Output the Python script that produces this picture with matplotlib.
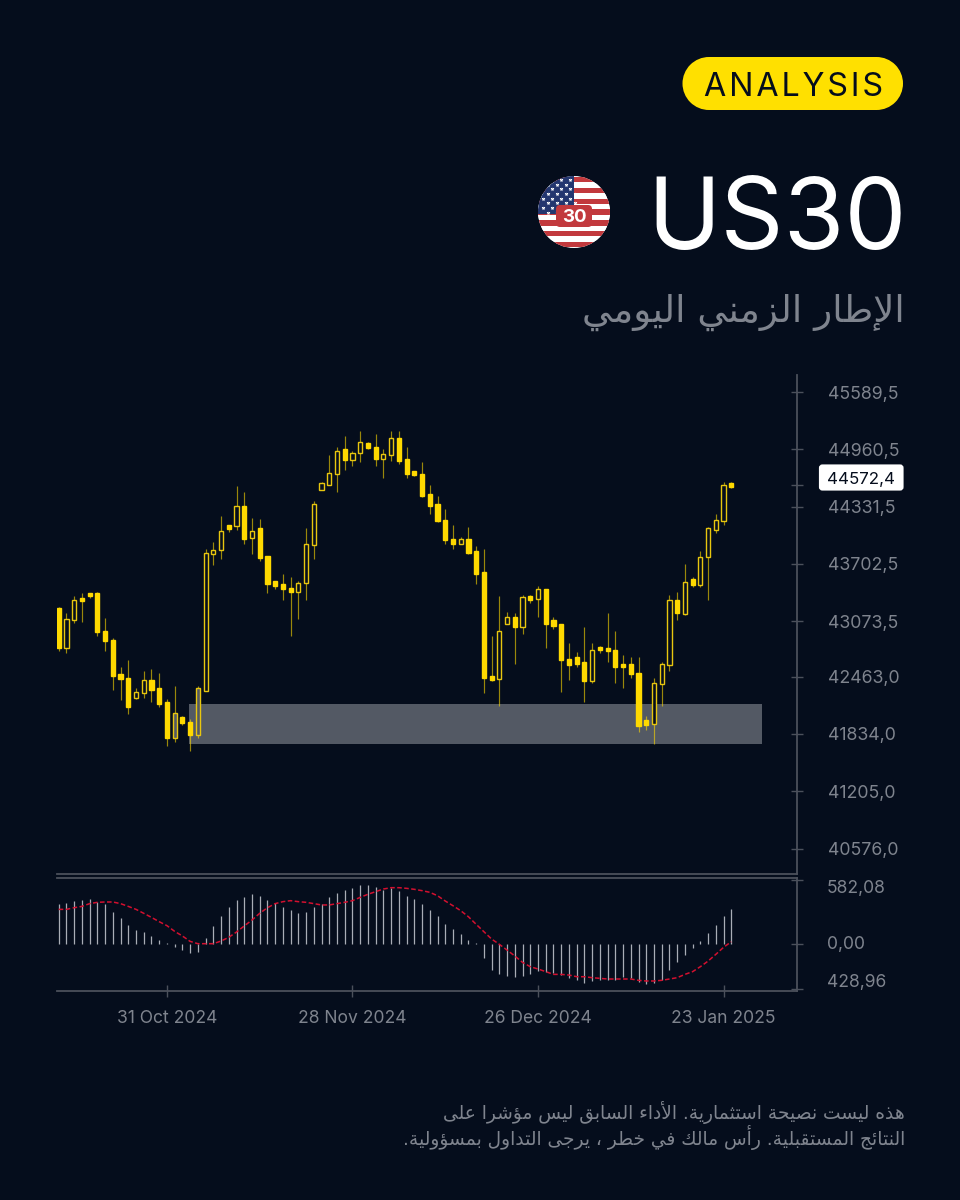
import matplotlib
matplotlib.use("Agg")
import matplotlib.pyplot as plt
import numpy as np
from matplotlib.patches import Circle, FancyBboxPatch, Rectangle

# ---- data ----
opens = [43215, 42778, 43086, 43325, 43387, 43387, 42965, 42870, 42488, 42451,
         42228, 42283, 42429, 42338, 42183, 41787, 42015, 41971, 41824, 42305,
         43809, 43850, 44129, 44118, 44338, 43982, 44092, 43787, 43519, 43479,
         43442, 43391, 43490, 43905, 44514, 44573, 44690, 44969, 44841, 44918,
         45031, 44991, 44859, 44899, 45083, 44855, 44723, 44686, 44474, 44360,
         44187, 43978, 43923, 43978, 43846, 43611, 42470, 42437, 43046, 43116,
         43009, 43351, 43314, 43424, 43083, 43043, 42661, 42679, 42624, 42415,
         42790, 42775, 42757, 42602, 42602, 42507, 41993, 41942, 42382, 42588,
         43311, 43153, 43538, 43468, 43773, 44078, 44173, 44588]
highs = [43233, 43160, 43347, 43384, 43387, 43392, 43105, 42888, 42565, 42646,
         42338, 42529, 42547, 42507, 42220, 42360, 42029, 41996, 42356, 43861,
         43941, 44224, 44129, 44554, 44496, 44209, 44191, 43787, 43519, 43593,
         43556, 43519, 44092, 44397, 44602, 44896, 44987, 45109, 44943, 45167,
         45042, 45127, 44969, 45167, 45164, 44991, 44723, 44819, 44569, 44452,
         44305, 44129, 43993, 44110, 43901, 43861, 42910, 43347, 43178, 43160,
         43362, 43366, 43461, 43428, 43124, 43043, 42837, 42738, 43006, 42834,
         42797, 43160, 42969, 42701, 42683, 42683, 42030, 42452, 42624, 43366,
         43388, 43696, 43553, 43847, 44111, 44247, 44606, 44599]
lows = [42741, 42723, 43050, 43061, 43332, 42910, 42741, 42319, 42206, 42051,
        42220, 42224, 42187, 42125, 41706, 41747, 41938, 41651, 41787, 42301,
        43692, 43751, 44055, 44074, 43919, 43806, 43732, 43387, 43428, 43310,
        42907, 43097, 43310, 43751, 44510, 44569, 44492, 44738, 44778, 44819,
        44969, 44778, 44646, 44833, 44800, 44646, 44664, 44433, 44246, 44165,
        43919, 43864, 43919, 43806, 43483, 42279, 42418, 42143, 43042, 42606,
        42929, 43274, 43116, 42775, 42988, 42298, 42430, 42566, 42184, 42393,
        42720, 42621, 42393, 42334, 42452, 41861, 41876, 41722, 42144, 42529,
        43083, 43142, 43447, 43447, 43307, 44037, 44133, 44536]
closes = [42778, 43097, 43307, 43296, 43347, 42951, 42855, 42473, 42433, 42128,
          42294, 42429, 42319, 42165, 41787, 42062, 41952, 41824, 42338, 43824,
          43857, 44066, 44088, 44338, 43978, 44066, 43769, 43486, 43464, 43428,
          43391, 43497, 43916, 44356, 44587, 44701, 44947, 44841, 44925, 45042,
          44973, 44859, 44910, 45083, 44837, 44686, 44683, 44452, 44341, 44169,
          43960, 43919, 43975, 43824, 43596, 42451, 42426, 42962, 43116, 43006,
          43340, 43311, 43424, 43046, 43024, 42646, 42588, 42606, 42415, 42753,
          42757, 42742, 42569, 42569, 42489, 41920, 41938, 42393, 42602, 43307,
          43160, 43498, 43465, 43780, 44092, 44184, 44570, 44551]

macd_hist = [364, 376, 391, 403, 415, 385, 364, 297, 242, 173,
             133, 109, 79, 42, 12, -27, -55, -79, -67, 55,
             164, 258, 336, 403, 427, 455, 442, 403, 373, 336,
             309, 282, 297, 336, 364, 427, 470, 497, 509, 536,
             536, 524, 497, 509, 485, 442, 415, 364, 309, 255,
             188, 136, 94, 39, 15, -121, -230, -270, -285, -294,
             -285, -273, -242, -248, -264, -279, -303, -324, -351, -333,
             -321, -321, -321, -300, -303, -339, -361, -351, -324, -230,
             -164, -97, -30, 30, 106, 176, 255, 324]
macd_signal = [318, 318, 333, 345, 370, 382, 385, 385, 370, 345,
               318, 282, 245, 206, 170, 118, 76, 27, 6, 6,
               6, 30, 64, 112, 167, 221, 282, 333, 370, 388,
               397, 388, 382, 370, 358, 358, 370, 382, 397, 427,
               455, 479, 503, 515, 515, 509, 500, 488, 473, 442,
               394, 351, 306, 251, 182, 115, 48, 0, -52, -106,
               -164, -203, -224, -248, -273, -273, -279, -294, -294, -303,
               -309, -315, -315, -315, -315, -327, -333, -333, -327, -315,
               -303, -273, -248, -203, -152, -91, -27, 24]

price_ticks = [45589.5, 44960.5, 44331.5, 43702.5, 43073.5, 42463.0, 41834.0, 41205.0, 40576.0]
macd_ticks = [582.08, 0.0, -428.96]
macd_tick_labels = ["582,08", "0,00", "428,96"]
date_pos = [14, 38, 62, 86]
date_labels = ["31 Oct 2024", "28 Nov 2024", "26 Dec 2024", "23 Jan 2025"]
last_price = 44572.4
zone_start, zone_end = 16.86, 91.0
zone_low, zone_high = 41725, 42165

BG = "#050d1c"
YELLOW = "#ffd900"
ZONE = "#535964"
AXIS = "#4b505b"
LABEL = "#7f848e"
W, H = 960, 1200
FONT = ["Inter", "DejaVu Sans"]


# matplotlib does no Arabic shaping, so map letters to presentation forms by hand
DUAL = {"ئ": 0xFE89, "ب": 0xFE8F, "ت": 0xFE95, "ث": 0xFE99, "ج": 0xFE9D, "ح": 0xFEA1,
        "خ": 0xFEA5, "س": 0xFEB1, "ش": 0xFEB5, "ص": 0xFEB9, "ط": 0xFEC1, "ع": 0xFEC9,
        "ف": 0xFED1, "ق": 0xFED5, "ك": 0xFED9, "ل": 0xFEDD, "م": 0xFEE1, "ن": 0xFEE5,
        "ه": 0xFEE9, "ي": 0xFEF1}
RIGHT = {"أ": 0xFE83, "ؤ": 0xFE85, "إ": 0xFE87, "ا": 0xFE8D, "ة": 0xFE93, "د": 0xFEA9,
         "ذ": 0xFEAB, "ر": 0xFEAD, "ز": 0xFEAF, "و": 0xFEED, "ى": 0xFEEF}
LAM_ALEF = {"ا": 0xFEFB, "أ": 0xFEF7, "إ": 0xFEF9}


def shape(text):
    out = []
    i = 0
    prev_joins = False
    while i < len(text):
        ch = text[i]
        nxt = text[i + 1] if i + 1 < len(text) else ""
        if ch == "ل" and nxt in LAM_ALEF:
            out.append(chr(LAM_ALEF[nxt] + (1 if prev_joins else 0)))
            prev_joins = False
            i += 2
            continue
        if ch in DUAL:
            next_letter = nxt in DUAL or nxt in RIGHT
            form = {(False, False): 0, (True, False): 1,
                    (False, True): 2, (True, True): 3}[(prev_joins, next_letter)]
            out.append(chr(DUAL[ch] + form))
            prev_joins = next_letter
        elif ch in RIGHT:
            out.append(chr(RIGHT[ch] + (1 if prev_joins else 0)))
            prev_joins = False
        else:
            out.append(ch)
            prev_joins = False
        i += 1
    return "".join(reversed(out))


def px_axes(left, top, right, bottom):
    return fig.add_axes([left / W, 1 - bottom / H, (right - left) / W, (bottom - top) / H])


fig = plt.figure(figsize=(W / 100, H / 100), dpi=100, facecolor=BG)

# overlay in pixel coordinates for the header, footer and tag
over = fig.add_axes([0, 0, 1, 1], zorder=5)
over.set_xlim(0, W)
over.set_ylim(H, 0)
over.axis("off")

# price panel
ax = px_axes(57, 375, 797, 873.5)
ax.set_facecolor("none")
x = np.arange(len(opens))
xlim = (-0.22, 95.5)
ax.add_patch(Rectangle((zone_start, zone_low), zone_end - zone_start, zone_high - zone_low,
                       facecolor=ZONE, edgecolor="none", zorder=1))
ax.vlines(x, lows, highs, color=YELLOW, alpha=0.6, lw=0.85, zorder=2)
for i in x:
    top, bot = max(opens[i], closes[i]), min(opens[i], closes[i])
    filled = closes[i] < opens[i]
    in_zone = zone_low < (top + bot) / 2 < zone_high
    face = YELLOW if filled else (ZONE if in_zone else BG)
    ax.add_patch(Rectangle((i - 0.27, bot), 0.54, top - bot, lw=1.0,
                           edgecolor=YELLOW if filled else "#e8c60f", facecolor=face, zorder=3))
ax.set_xlim(*xlim)
ax.set_ylim(40301.5, 45777)
ax.set_xticks([])
ax.yaxis.tick_right()
ax.set_yticks(price_ticks + [last_price])
ax.set_yticklabels([f"{t:.1f}".replace(".", ",") for t in price_ticks] + [""],
                   family=FONT, fontsize=12.8, color=LABEL)
ax.tick_params(axis="y", color=AXIS, length=8, width=1, direction="inout", pad=18)
for name, sp in ax.spines.items():
    sp.set_visible(name in ("right", "bottom"))
    sp.set_color(AXIS)
    sp.set_linewidth(1.3)

# macd panel
ax2 = px_axes(57, 878, 797, 991)
ax2.set_facecolor("none")
ax2.vlines(x, 0, macd_hist, color="#a9adb6", lw=0.9, zorder=2)
ax2.plot(x, macd_signal, color="#d3102f", lw=1.1, dashes=(3, 1.6), zorder=3)
ax2.set_xlim(*xlim)
ax2.set_ylim(-424, 603)
ax2.yaxis.tick_right()
ax2.set_yticks([macd_ticks[0], macd_ticks[1], -410])
ax2.set_yticklabels([])
ax2.tick_params(axis="y", color=AXIS, length=8, width=1, direction="inout")
ax2.set_xticks(date_pos)
ax2.set_xticklabels(date_labels, family=FONT, fontsize=12.6, color=LABEL)
ax2.tick_params(axis="x", color=AXIS, length=8, width=1, direction="inout", pad=10)
for name, sp in ax2.spines.items():
    sp.set_visible(name in ("right", "bottom", "top"))
    sp.set_color(AXIS)
    sp.set_linewidth(1.3)
for label, y_px in zip(macd_tick_labels, [888, 944.5, 982]):
    over.text(827, y_px, label, family=FONT, fontsize=12.6, color=LABEL, va="center", ha="left")

# last price tag
over.add_patch(FancyBboxPatch((821, 466.5), 80.5, 22, boxstyle="round,pad=0,rounding_size=1.5",
                              lw=3, edgecolor="white", facecolor="white", zorder=5))
over.text(861, 478, f"{last_price:.1f}".replace(".", ","), family=FONT, fontsize=12.2,
          color="#050d1c", ha="center", va="center_baseline", zorder=6)

# ANALYSIS pill
over.add_patch(Rectangle((709, 57), 167.5, 53, lw=0, facecolor="#ffe000", zorder=5))
over.add_patch(Circle((709, 83.5), 26.5, lw=0, facecolor="#ffe000", zorder=5))
over.add_patch(Circle((876.5, 83.5), 26.5, lw=0, facecolor="#ffe000", zorder=5))
over.text(793, 84, "\u200a".join("ANALYSIS"), family=FONT, fontsize=23.2, color="#050d1c",
          ha="center", va="center_baseline", zorder=6)

# title
over.text(906.5, 248.5, "US30", family=FONT, fontsize=71, color="white", ha="right", va="baseline")

# flag
cx, cy, r = 574, 212, 36
clip = Circle((cx, cy), r, transform=over.transData)
over.add_patch(Circle((cx, cy), r, lw=0, facecolor="white", zorder=5))
for k in range(13):
    band = Rectangle((cx - r, 177 + 5.4 * k), 2 * r, 5.4, lw=0, zorder=5,
                     facecolor="#c2393d" if k % 2 == 0 else "white")
    over.add_patch(band)
    band.set_clip_path(clip)
canton = Rectangle((cx - r, cy - r), r, 38, lw=0, facecolor="#23366f", zorder=6)
over.add_patch(canton)
canton.set_clip_path(clip)
sx, sy = np.meshgrid(np.arange(cx - 31, cx, 9), np.arange(cy - 32, cy + 2, 4.7))
sx = (sx + (np.arange(sx.shape[0])[:, None] % 2) * 4.5).ravel()
stars = over.scatter(sx, sy.ravel(), s=9, marker="*", color="white", lw=0, zorder=7)
stars.set_clip_path(clip)
over.add_patch(FancyBboxPatch((556, 205), 36, 22, boxstyle="round,pad=0,rounding_size=4",
                              lw=0, facecolor="#c2393d", zorder=8))
over.text(574.5, 215.5, "30", family=FONT, fontsize=13.5, weight="bold", color="white",
          ha="center", va="center_baseline", zorder=9)

# arabic texts
over.text(905, 312, shape("الإطار الزمني اليومي"), family="DejaVu Sans", fontsize=26.8,
          color="#7f848e", ha="right", va="center")
over.text(905, 1113, shape("هذه ليست نصيحة استثمارية. الأداء السابق ليس مؤشرا على"),
          family="DejaVu Sans", fontsize=13.45, color="#7f848e", ha="right", va="center")
over.text(905, 1138, shape("النتائج المستقبلية. رأس مالك في خطر ، يرجى التداول بمسؤولية."),
          family="DejaVu Sans", fontsize=13.45, color="#7f848e", ha="right", va="center")

fig.savefig("out.png", dpi=100, facecolor=BG)
